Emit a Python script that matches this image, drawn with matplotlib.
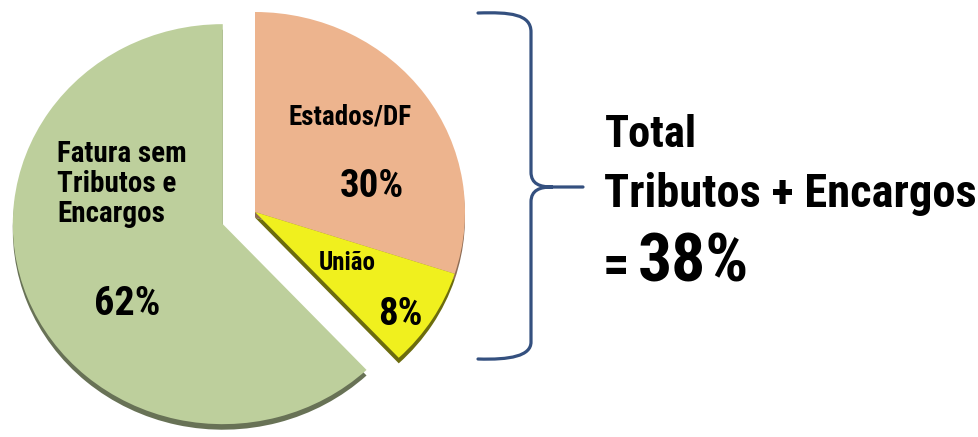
import matplotlib
matplotlib.use("Agg")
import matplotlib.pyplot as plt
from matplotlib import patheffects as pe
from matplotlib.path import Path
from matplotlib.patches import PathPatch
from matplotlib import font_manager as fm

# ---- data ----
categories = ['Estados/DF', 'União', 'Fatura sem\nTributos e\nEncargos']
values = [30, 8, 62]
colors = ['#EDB48E', '#F0F01E', '#BDCF9C']
explode = [0, 0, 33]
total_label = ['Total', 'Tributos + Encargos']
total_value = values[0] + values[1]

# ---- fonts: prefer a narrow bold sans (Arial Narrow look-alike) ----
bold_names = {f.name for f in fm.fontManager.ttflist
              if (f.weight if isinstance(f.weight, int) else 700 if 'bold' in str(f.weight) else 400) >= 600}
prefs = ['Nimbus Sans Narrow', 'Liberation Sans Narrow', 'Arial Narrow', 'Roboto Condensed',
         'Archivo Narrow', 'PT Sans Narrow', 'Open Sans Condensed', 'Asap Condensed']
chosen = [n for n in prefs if n in bold_names][:1]
plt.rcParams['font.family'] = chosen + ['Liberation Sans', 'DejaVu Sans']

W, H = 979, 437
fig = plt.figure(figsize=(W / 100, H / 100), dpi=100)
fig.patch.set_facecolor('white')

sx = 1.05
ax = fig.add_axes([0, 0, 1, 1])
wedges, _ = ax.pie(values, colors=colors, explode=explode, startangle=90,
                   counterclock=False, radius=200, center=(255 / sx, H - 212),
                   frame=True, wedgeprops=dict(linewidth=0))
for w, rho in zip(wedges, [0.6, 0.45, 0.55]):
    w.set_path_effects([pe.SimplePatchShadow(offset=(0.0, -4), rho=rho, alpha=1.0),
                        pe.Normal()])
ax.set_aspect('auto')
ax.set_xlim(0, W / sx)
ax.set_ylim(0, H)
ax.axis('off')

ov = fig.add_axes([0, 0, 1, 1])
ov.set_xlim(0, W)
ov.set_ylim(H, 0)
ov.axis('off')
ov.patch.set_alpha(0)

bold = dict(fontweight='bold', color='black')
ov.text(350, 125, categories[0], ha='center', va='baseline', fontsize=19.5, **bold)
ov.text(372, 197, f'{values[0]}%', ha='center', va='baseline', fontsize=28, **bold)
ov.text(347, 270, categories[1], ha='center', va='baseline', fontsize=18, **bold)
ov.text(400, 325, f'{values[1]}%', ha='center', va='baseline', fontsize=28, **bold)
for i, line in enumerate(categories[2].split('\n')):
    ov.text(57, 162 + 30 * i, line, ha='left', va='baseline', fontsize=21, **bold)
ov.text(127, 315, f'{values[2]}%', ha='center', va='baseline', fontsize=29, **bold)

ov.text(605, 147, total_label[0], ha='left', va='baseline', fontsize=32, **bold)
ov.text(604, 207, total_label[1], ha='left', va='baseline', fontsize=33.5, **bold)
ov.text(603, 282, '=', ha='left', va='baseline', fontsize=38, **bold)
ov.text(638, 282, f'{total_value}%', ha='left', va='baseline', fontsize=48.5, **bold)

verts = [(478, 13), (510, 12), (531, 14), (531, 32),
         (531, 172),
         (531, 184), (540, 187), (552, 187),
         (583, 187),
         (552, 187),
         (540, 187), (531, 190), (531, 202),
         (531, 342),
         (531, 356), (510, 360), (478, 359)]
codes = [Path.MOVETO, Path.CURVE4, Path.CURVE4, Path.CURVE4,
         Path.LINETO,
         Path.CURVE4, Path.CURVE4, Path.CURVE4,
         Path.LINETO,
         Path.MOVETO,
         Path.CURVE4, Path.CURVE4, Path.CURVE4,
         Path.LINETO,
         Path.CURVE4, Path.CURVE4, Path.CURVE4]
ov.add_patch(PathPatch(Path(verts, codes), facecolor='none', edgecolor='#34507F',
                       linewidth=2.3, capstyle='round', joinstyle='round'))

fig.savefig('out.png', dpi=100, facecolor='white')
